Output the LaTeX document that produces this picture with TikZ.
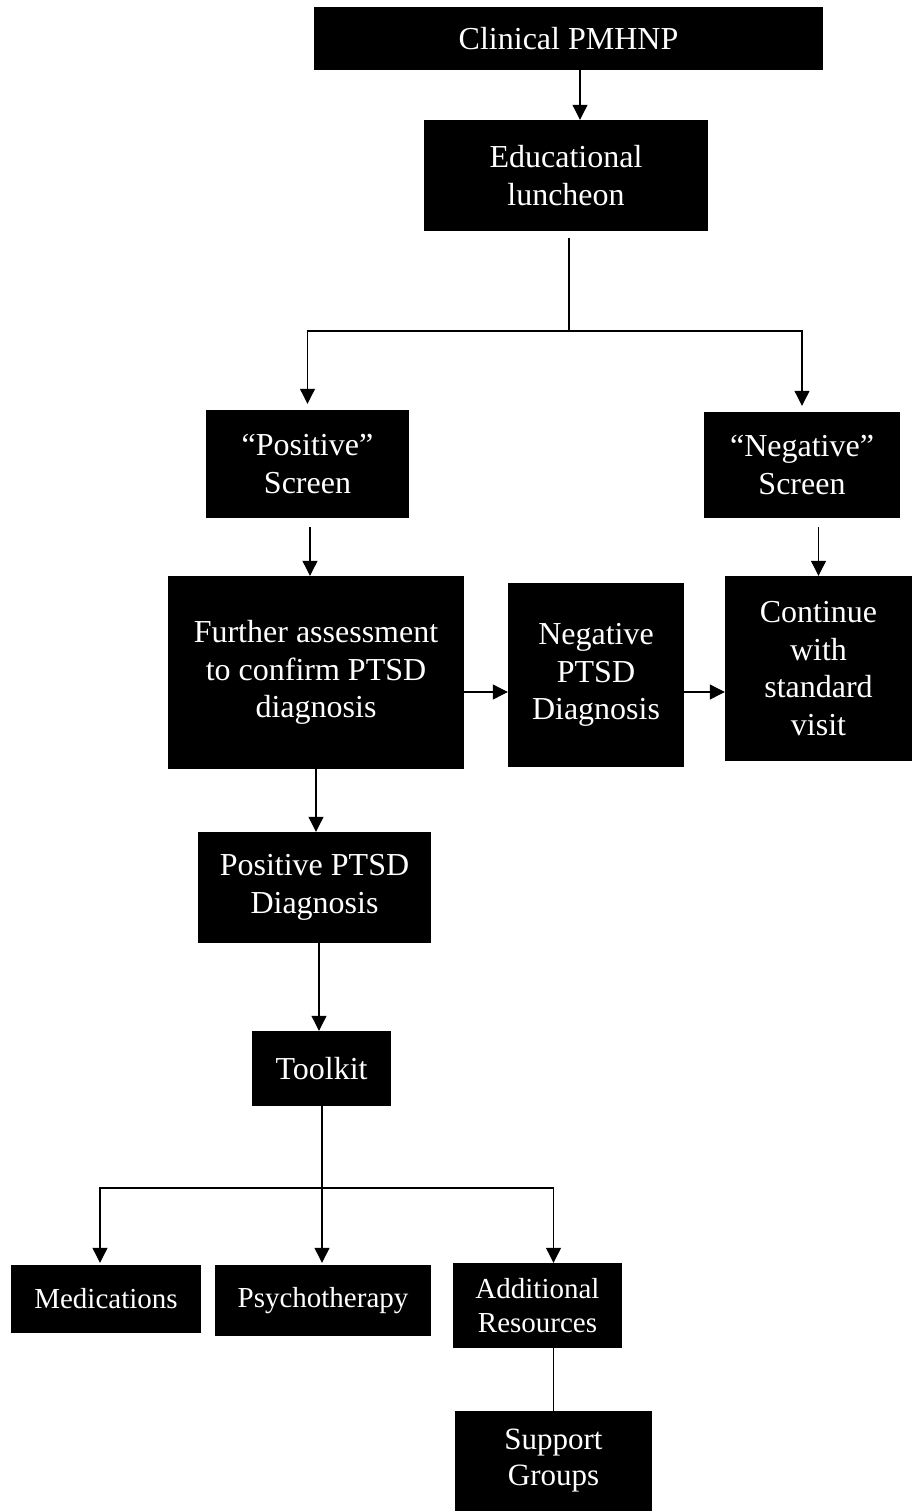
\documentclass[tikz,border=0pt]{standalone}
\usepackage{fontspec}
\setmainfont{Liberation Serif}
\usetikzlibrary{arrows.meta}
\usetikzlibrary{positioning,calc}

\begin{document}
\begin{tikzpicture}[x=1pt,y=-1pt,
    flowbox/.style={fill=black,text=white,inner sep=0pt,align=center,
      font=\fontsize{32}{37.5}\selectfont},
    lowbox/.style={flowbox,font=\fontsize{29}{34}\selectfont},
    arr/.style={-{Triangle[length=15pt,width=15pt]},line width=1.1pt},
    link/.style={line width=1.1pt}]
    \useasboundingbox (0,0) rectangle (913,1511);
    % top of the chart
    \node[flowbox,minimum width=509pt,minimum height=63pt] (clin) at (568.5,38.5)
      {Clinical PMHNP};
    \node[flowbox,minimum width=284pt,minimum height=111pt] (edu) at (566,175.5)
      {Educational\\luncheon};
    % screens
    \node[flowbox,minimum width=203pt,minimum height=108pt] (pos) at (307.5,464)
      {“Positive”\\Screen};
    \node[flowbox,minimum width=196pt,minimum height=106pt] (neg) at (802,465)
      {“Negative”\\Screen};
    % middle row
    \node[flowbox,minimum width=296pt,minimum height=193pt] (further) at (316,672.5)
      {Further assessment\\to confirm PTSD\\diagnosis};
    \node[flowbox,minimum width=176pt,minimum height=184pt] (negd) at (596,675)
      {Negative\\PTSD\\Diagnosis};
    \node[flowbox,minimum width=187pt,minimum height=185pt] (cont) at (818.5,668.5)
      {Continue\\with\\standard\\visit};
    \node[flowbox,minimum width=233pt,minimum height=111pt] (posd) at (314.5,887.5)
      {Positive PTSD\\Diagnosis};
    \node[flowbox,minimum width=139pt,minimum height=75pt] (tool) at (321.5,1068.5)
      {Toolkit};
    % toolkit contents
    \node[lowbox,minimum width=190pt,minimum height=68pt] (med) at (106,1299)
      {Medications};
    \node[lowbox,minimum width=216pt,minimum height=71pt] (psy) at (323,1300.5)
      {Psychotherapy};
    \node[lowbox,minimum width=169pt,minimum height=85pt] (add) at (537.5,1305.5)
      {Additional\\Resources};
    \node[flowbox,minimum width=197pt,minimum height=100pt,
          font=\fontsize{31}{36}\selectfont] (supp) at (553.5,1461)
      {Support\\Groups};
    % connectors
    \coordinate (split) at (569,331);
    \coordinate (midrow) at (0,692);
    \coordinate (split2) at (322,1188);
    \draw[arr] (clin.south -| 580,0) -- (edu.north -| 580,0);
    \draw[link,shorten <=7pt] (edu.south -| split) -- (split);
    \draw[arr,shorten >=6pt] (split) -| (pos.north);
    \draw[arr,shorten >=6pt] (split) -| (neg.north);
    \draw[arr,shorten <=9pt] (pos.south -| 310,0) -- (further.north -| 310,0);
    \draw[arr,shorten <=9pt] (neg.south -| cont.north) -- (cont.north);
    \draw[arr] (further.east |- midrow) -- (negd.west |- midrow);
    \draw[arr] (negd.east |- midrow) -- (cont.west |- midrow);
    \draw[arr] (further.south) -- (posd.north -| further.south);
    \draw[arr] (posd.south -| 319,0) -- (tool.north -| 319,0);
    \draw[arr,shorten >=2pt] (tool.south -| split2) -- (psy.north -| split2);
    \draw[arr,shorten >=2pt] (split2) -| (med.north -| 100,0);
    \draw[arr] (split2) -| (add.north -| supp.north);
    \draw[link] (add.south -| supp.north) -- (supp.north);
\end{tikzpicture}
\end{document}
